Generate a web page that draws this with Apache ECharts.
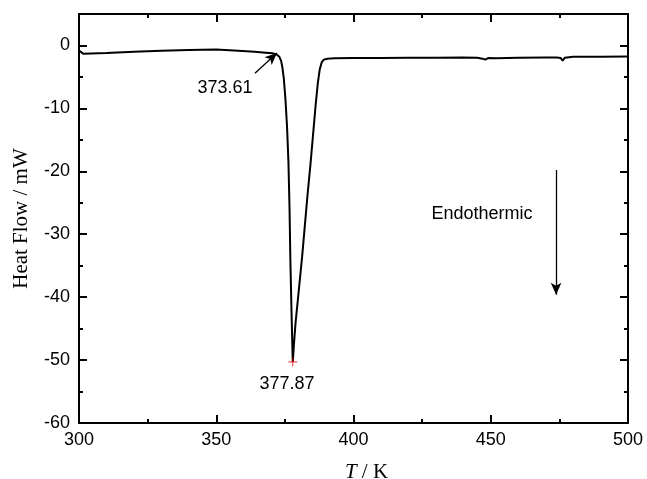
<!DOCTYPE html>
<html>
<head>
<meta charset="utf-8">
<script src="https://cdn.jsdelivr.net/npm/echarts@6/dist/echarts.min.js"></script>
<style>
  html, body { margin: 0; padding: 0; background: #fff; }
  #main { width: 647px; height: 479px; }
</style>
</head>
<body>
<div id="main"></div>
<script>
// DSC curve
var temps = [300, 301.5, 310, 320, 330, 340, 350, 358, 364, 368, 370.5, 372, 373, 373.6, 374.1, 374.6,
  375.2, 375.8, 376.3, 376.7, 377.0, 377.4, 377.87, 378.3, 378.9, 379.6, 380.5, 381.3, 382.2, 383.2,
  384.3, 385.3, 386.2, 387.0, 387.7, 388.4, 389.2, 390.5, 393, 400, 410, 420, 430, 440, 445, 447,
  448, 449, 452, 460, 470, 474, 475.5, 476.2, 477, 480, 490, 500];
var heatFlow = [-0.8, -1.3, -1.2, -1.0, -0.85, -0.72, -0.65, -0.85, -1.0, -1.15, -1.25, -1.45, -1.8, -2.4, -3.5, -5.2,
  -8.5, -13, -18.5, -26, -34, -42, -50.3, -47.5, -44, -41, -37, -33.5, -29, -24,
  -19, -14, -9.5, -6, -3.8, -2.7, -2.25, -2.1, -2.05, -2.0, -2.0, -1.95, -1.95, -1.9, -1.95, -2.1,
  -2.25, -2.0, -2.05, -1.95, -1.9, -1.9, -2.0, -2.4, -1.95, -1.8, -1.8, -1.75];

var peak = [377.87, -50.3];
var onsetLabel = '373.61';
var peakLabel = '377.87';
var onsetArrow = [[364.1, -4.4], [372.1, -1.2]];
var endoArrow = [[473.8, -19.8], [473.8, -39.6]];
var labelPos = { onset: [353.2, -6.8], peak: [375.8, -53.8], endo: [446.8, -26.8] };

var xTicks = { min: 300, max: 500, step: 50 };
var yTicks = { min: -60, max: 5, step: 10 };

var lineData = temps.map(function (t, i) { return [t, heatFlow[i]]; });

var tickFont = { color: '#000', fontFamily: 'Liberation Sans, Arial', fontSize: 18 };
var axisCommon = {
  axisLine: { onZero: false, lineStyle: { color: '#000', width: 2 } },
  axisTick: { inside: true, length: 8, lineStyle: { color: '#000', width: 2 } },
  minorTick: { show: true, splitNumber: 2, length: 4, lineStyle: { color: '#000', width: 2 } },
  splitLine: { show: false }
};

function xAxisOf(pos, withLabels) {
  return Object.assign({
    type: 'value', position: pos,
    min: xTicks.min, max: xTicks.max, interval: xTicks.step,
    axisLabel: Object.assign({ show: withLabels, margin: 8 }, tickFont)
  }, axisCommon);
}
function yAxisOf(pos, withLabels) {
  return Object.assign({
    type: 'value', position: pos,
    min: yTicks.min, max: yTicks.max, interval: yTicks.step,
    axisLabel: Object.assign({ show: withLabels, margin: 9, showMaxLabel: false }, tickFont)
  }, axisCommon);
}

var xBottom = xAxisOf('bottom', true);
xBottom.name = '{i|T} / K';
xBottom.nameLocation = 'middle';
xBottom.nameGap = 39;
xBottom.nameTextStyle = {
  color: '#000', fontFamily: 'Liberation Serif', fontSize: 21, padding: [0, 0, 0, 26],
  rich: { i: { fontStyle: 'italic', fontFamily: 'Liberation Serif', fontSize: 21, color: '#000' } }
};
var yLeft = yAxisOf('left', true);
yLeft.name = 'Heat Flow / mW';
yLeft.nameLocation = 'middle';
yLeft.nameGap = 47;
yLeft.nameTextStyle = { color: '#000', fontFamily: 'Liberation Serif', fontSize: 21 };

var textStyle = { show: true, color: '#000', fontFamily: 'Liberation Sans, Arial', fontSize: 18, position: 'inside' };

var myChart = echarts.init(document.getElementById('main'));
var option = {
  animation: false,
  backgroundColor: '#fff',
  grid: { left: 79, right: 19, top: 14, bottom: 56, containLabel: false, outerBoundsMode: 'none' },
  xAxis: [xBottom, xAxisOf('top', false)],
  yAxis: [yLeft, yAxisOf('right', false)],
  series: [{
    type: 'line',
    data: lineData,
    showSymbol: false,
    symbol: 'none',
    lineStyle: { color: '#000', width: 2 },
    markLine: {
      silent: true,
      symbol: ['none', 'arrow'],
      symbolSize: [8, 12],
      label: { show: false },
      lineStyle: { color: '#000', width: 1.3, type: 'solid' },
      data: [
        [{ coord: onsetArrow[0] }, { coord: onsetArrow[1] }],
        [{ coord: endoArrow[0] }, { coord: endoArrow[1] }]
      ]
    },
    markPoint: {
      silent: true,
      symbolSize: 0,
      data: [
        { coord: labelPos.onset, value: onsetLabel, label: Object.assign({ formatter: onsetLabel }, textStyle) },
        { coord: labelPos.peak, value: peakLabel, label: Object.assign({ formatter: peakLabel }, textStyle) },
        { coord: labelPos.endo, value: 'Endothermic', label: Object.assign({ formatter: 'Endothermic' }, textStyle) }
      ]
    }
  }, {
    type: 'scatter',
    data: [peak],
    symbol: 'path://M5,0 L5,10 M0,5 L10,5',
    symbolSize: 9,
    itemStyle: { color: 'none', borderColor: '#e00000', borderWidth: 1 },
    z: 5
  }]
};
myChart.setOption(option);
</script>
</body>
</html>
